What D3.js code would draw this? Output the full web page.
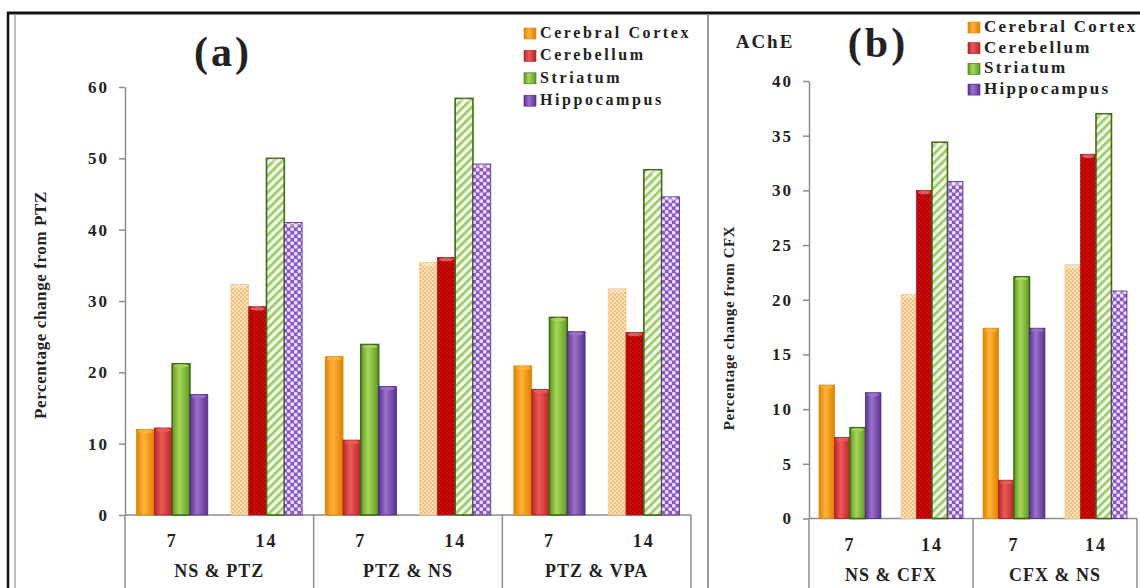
<!DOCTYPE html>
<html>
<head>
<meta charset="utf-8">
<script src="https://cdn.jsdelivr.net/npm/d3@7"></script>
<style>
  body { margin: 0; background: #fff; }
  svg { display: block; }
  text { font-family: "Liberation Serif", "Times New Roman", serif; font-weight: bold; fill: #222; }
</style>
</head>
<body>
<svg id="svg" width="1140" height="588"></svg>
<script>
// DATA
var regions = ["Cerebral Cortex", "Cerebellum", "Striatum", "Hippocampus"];
var days = ["7", "14"];
var groupsA = ["NS & PTZ", "PTZ & NS", "PTZ & VPA"];
var groupsB = ["NS & CFX", "CFX & NS"];

// panel (a), one value per group/day : 7, 14, 7, 14, 7, 14
var cortexA = [12.0, 32.3, 22.2, 35.4, 20.9, 31.7];
var cerebellumA = [12.2, 29.2, 10.5, 36.1, 17.6, 25.6];
var striatumA = [21.2, 50.0, 23.9, 58.4, 27.7, 48.4];
var hippocampusA = [16.9, 41.0, 18.0, 49.2, 25.7, 44.6];
var ticksA = [0, 10, 20, 30, 40, 50, 60];

// panel (b)
var cortexB = [12.2, 20.5, 17.4, 23.2];
var cerebellumB = [7.4, 30.0, 3.5, 33.3];
var striatumB = [8.3, 34.4, 22.1, 37.0];
var hippocampusB = [11.5, 30.8, 17.4, 20.8];
var ticksB = [0, 5, 10, 15, 20, 25, 30, 35, 40];

var svg = d3.select("#svg");
var defs = svg.append("defs");

// colours per region: dark, light, outline
var cols = [
  {dark: "#e07f00", light: "#ffb43a", line: "#d98a10"},
  {dark: "#b82428", light: "#ec5a58", line: "#a82020"},
  {dark: "#5f9a24", light: "#a6d65a", line: "#3f6a18"},
  {dark: "#5a3290", light: "#9a72cc", line: "#4c2a7c"}
];

// cylinder look for day 7 bars
cols.forEach(function(c, i) {
  var g = defs.append("linearGradient").attr("id", "grad" + i)
    .attr("x1", 0).attr("x2", 1).attr("y1", 0).attr("y2", 0);
  g.append("stop").attr("offset", "0%").attr("stop-color", c.dark);
  g.append("stop").attr("offset", "40%").attr("stop-color", c.light);
  g.append("stop").attr("offset", "100%").attr("stop-color", c.dark);
});

// patterns for day 14 bars
var p0 = defs.append("pattern").attr("id", "pat0").attr("width", 4).attr("height", 4).attr("patternUnits", "userSpaceOnUse");
p0.append("rect").attr("width", 4).attr("height", 4).attr("fill", "#fde2bc");
p0.append("circle").attr("cx", 1).attr("cy", 1).attr("r", 1).attr("fill", "#f2b468");
p0.append("circle").attr("cx", 3).attr("cy", 3).attr("r", 1).attr("fill", "#f2b468");

var p1 = defs.append("pattern").attr("id", "pat1").attr("width", 4).attr("height", 4).attr("patternUnits", "userSpaceOnUse");
p1.append("rect").attr("width", 4).attr("height", 4).attr("fill", "#d40a0a");
p1.append("circle").attr("cx", 1).attr("cy", 1).attr("r", 0.9).attr("fill", "#9c0000");
p1.append("circle").attr("cx", 3).attr("cy", 3).attr("r", 0.9).attr("fill", "#9c0000");

var p2 = defs.append("pattern").attr("id", "pat2").attr("width", 6).attr("height", 6).attr("patternUnits", "userSpaceOnUse")
  .attr("patternTransform", "rotate(45)");
p2.append("rect").attr("width", 6).attr("height", 6).attr("fill", "#f4faec");
p2.append("rect").attr("width", 2.6).attr("height", 6).attr("fill", "#98cb62");

var p3 = defs.append("pattern").attr("id", "pat3").attr("width", 7).attr("height", 7).attr("patternUnits", "userSpaceOnUse");
p3.append("rect").attr("width", 7).attr("height", 7).attr("fill", "#8656c2");
p3.append("circle").attr("cx", 1.75).attr("cy", 1.75).attr("r", 1.9).attr("fill", "#ecdcfc");
p3.append("circle").attr("cx", 5.25).attr("cy", 5.25).attr("r", 1.9).attr("fill", "#ecdcfc");

var lineCol = "#8c8c8c";

function drawPanel(cfg) {
  var g = svg.append("g");
  var series = cfg.series;

  var y = d3.scaleLinear().domain([0, cfg.ticks[cfg.ticks.length - 1]]).range([cfg.y0, cfg.y1]);
  var x0 = d3.scaleBand().domain(cfg.groups).range([cfg.x0, cfg.x1]);
  var x1 = d3.scaleBand().domain(days).range([0, x0.bandwidth()]);
  var x2 = d3.scaleBand().domain(regions).range([0, x1.bandwidth()]).paddingOuter(0.65);

  // y axis
  var yAxis = d3.axisLeft(y).tickValues(cfg.ticks).tickSize(6).tickPadding(10).tickSizeOuter(0);
  var ya = g.append("g").attr("transform", "translate(" + cfg.x0 + ",0)").call(yAxis);
  ya.select(".domain").attr("stroke", lineCol).attr("stroke-width", 1.5);
  ya.selectAll(".tick line").attr("stroke", lineCol).attr("stroke-width", 1.5);
  ya.selectAll(".tick text")
    .style("font-family", "Liberation Serif, serif").style("font-weight", "bold")
    .style("font-size", "17px").style("letter-spacing", "2px").attr("fill", "#222");

  // category axis (two levels)
  g.append("line").attr("x1", cfg.x0).attr("x2", cfg.x1).attr("y1", cfg.y0).attr("y2", cfg.y0)
    .attr("stroke", lineCol).attr("stroke-width", 1.5);
  var seps = cfg.groups.map(function(d) { return x0(d); }).concat([cfg.x1]);
  g.selectAll(".sep").data(seps).enter().append("line")
    .attr("x1", function(d) { return d; }).attr("x2", function(d) { return d; })
    .attr("y1", cfg.y0).attr("y2", 588)
    .attr("stroke", lineCol).attr("stroke-width", 1.5);

  cfg.groups.forEach(function(grp) {
    days.forEach(function(day) {
      g.append("text")
        .attr("x", x0(grp) + x1(day) + x1.bandwidth() / 2)
        .attr("y", cfg.y0 + 32)
        .attr("text-anchor", "middle")
        .style("font-size", "18px").style("letter-spacing", "2px")
        .text(day);
    });
    g.append("text")
      .attr("x", x0(grp) + x0.bandwidth() / 2)
      .attr("y", cfg.y0 + 62)
      .attr("text-anchor", "middle")
      .style("font-size", "18px").style("letter-spacing", "1px")
      .text(grp);
  });

  // bars
  series.forEach(function(vals, r) {
    var bars = g.selectAll(".bar" + r).data(vals).enter().append("g");
    bars.append("rect")
      .attr("x", function(d, i) { return x0(cfg.groups[Math.floor(i / 2)]) + x1(days[i % 2]) + x2(regions[r]); })
      .attr("y", function(d) { return y(d); })
      .attr("width", x2.bandwidth())
      .attr("height", function(d) { return cfg.y0 - y(d); })
      .attr("fill", function(d, i) { return i % 2 === 0 ? "url(#grad" + r + ")" : "url(#pat" + r + ")"; })
      .attr("stroke", function(d, i) {
        if (r === 2) return cols[r].line;
        if (i % 2 === 1 && r === 0) return "#f0c890";
        return cols[r].line;
      })
      .attr("stroke-width", function() { return r === 2 ? 1.6 : 0.8; });
    // little top cap
    bars.append("ellipse")
      .attr("cx", function(d, i) { return x0(cfg.groups[Math.floor(i / 2)]) + x1(days[i % 2]) + x2(regions[r]) + x2.bandwidth() / 2; })
      .attr("cy", function(d) { return y(d) + 2; })
      .attr("rx", x2.bandwidth() / 2 - 1.5)
      .attr("ry", 1.8)
      .attr("fill", function(d, i) { return i % 2 === 0 ? cols[r].light : "#ffffff"; })
      .attr("opacity", function(d, i) { return i % 2 === 0 ? 0.9 : 0.35; });
  });

  // y label
  g.append("text")
    .attr("transform", "translate(" + cfg.labelX + "," + cfg.labelY + ") rotate(-90)")
    .attr("text-anchor", "middle")
    .style("font-size", cfg.labelSize + "px").style("letter-spacing", "0.6px")
    .text(cfg.label);

  // legend
  var lg = g.append("g").attr("transform", "translate(" + cfg.legX + "," + cfg.legY + ")");
  regions.forEach(function(reg, i) {
    lg.append("rect").attr("x", 0).attr("y", i * cfg.legStep - 5)
      .attr("width", 12).attr("height", 11)
      .attr("fill", "url(#grad" + i + ")").attr("stroke", cols[i].line).attr("stroke-width", 0.6);
    lg.append("text").attr("x", 16).attr("y", i * cfg.legStep + 5)
      .style("font-size", cfg.legSize + "px").style("letter-spacing", cfg.legSpace + "px")
      .text(reg);
  });
}

drawPanel({
  groups: groupsA,
  series: [cortexA, cerebellumA, striatumA, hippocampusA],
  ticks: ticksA,
  x0: 125, x1: 691, y0: 515, y1: 87,
  label: "Percentage change from PTZ", labelX: 46, labelY: 305, labelSize: 17,
  legX: 524, legY: 33, legStep: 22.4, legSize: 16, legSpace: 2.6
});

drawPanel({
  groups: groupsB,
  series: [cortexB, cerebellumB, striatumB, hippocampusB],
  ticks: ticksB,
  x0: 809, x1: 1137, y0: 518.5, y1: 81,
  label: "Percentage change from CFX", labelX: 734, labelY: 328, labelSize: 15,
  legX: 968, legY: 27, legStep: 20.7, legSize: 17, legSpace: 2.3
});

// titles
svg.append("text").attr("x", 223).attr("y", 66).attr("text-anchor", "middle")
  .style("font-size", "42px").style("letter-spacing", "3px").text("(a)");
svg.append("text").attr("x", 878).attr("y", 57).attr("text-anchor", "middle")
  .style("font-size", "42px").style("letter-spacing", "3px").text("(b)");
svg.append("text").attr("x", 765).attr("y", 48).attr("text-anchor", "middle")
  .style("font-size", "19px").style("letter-spacing", "2px").text("AChE");

// frame
svg.append("line").attr("x1", 7).attr("x2", 1140).attr("y1", 13).attr("y2", 13)
  .attr("stroke", "#111").attr("stroke-width", 3);
svg.append("line").attr("x1", 8).attr("x2", 8).attr("y1", 12).attr("y2", 588)
  .attr("stroke", "#111").attr("stroke-width", 2.5);
svg.append("line").attr("x1", 15).attr("x2", 15).attr("y1", 14).attr("y2", 588)
  .attr("stroke", "#aaa").attr("stroke-width", 1.5);
svg.append("line").attr("x1", 708).attr("x2", 708).attr("y1", 14).attr("y2", 588)
  .attr("stroke", "#999").attr("stroke-width", 2);
</script>
</body>
</html>
